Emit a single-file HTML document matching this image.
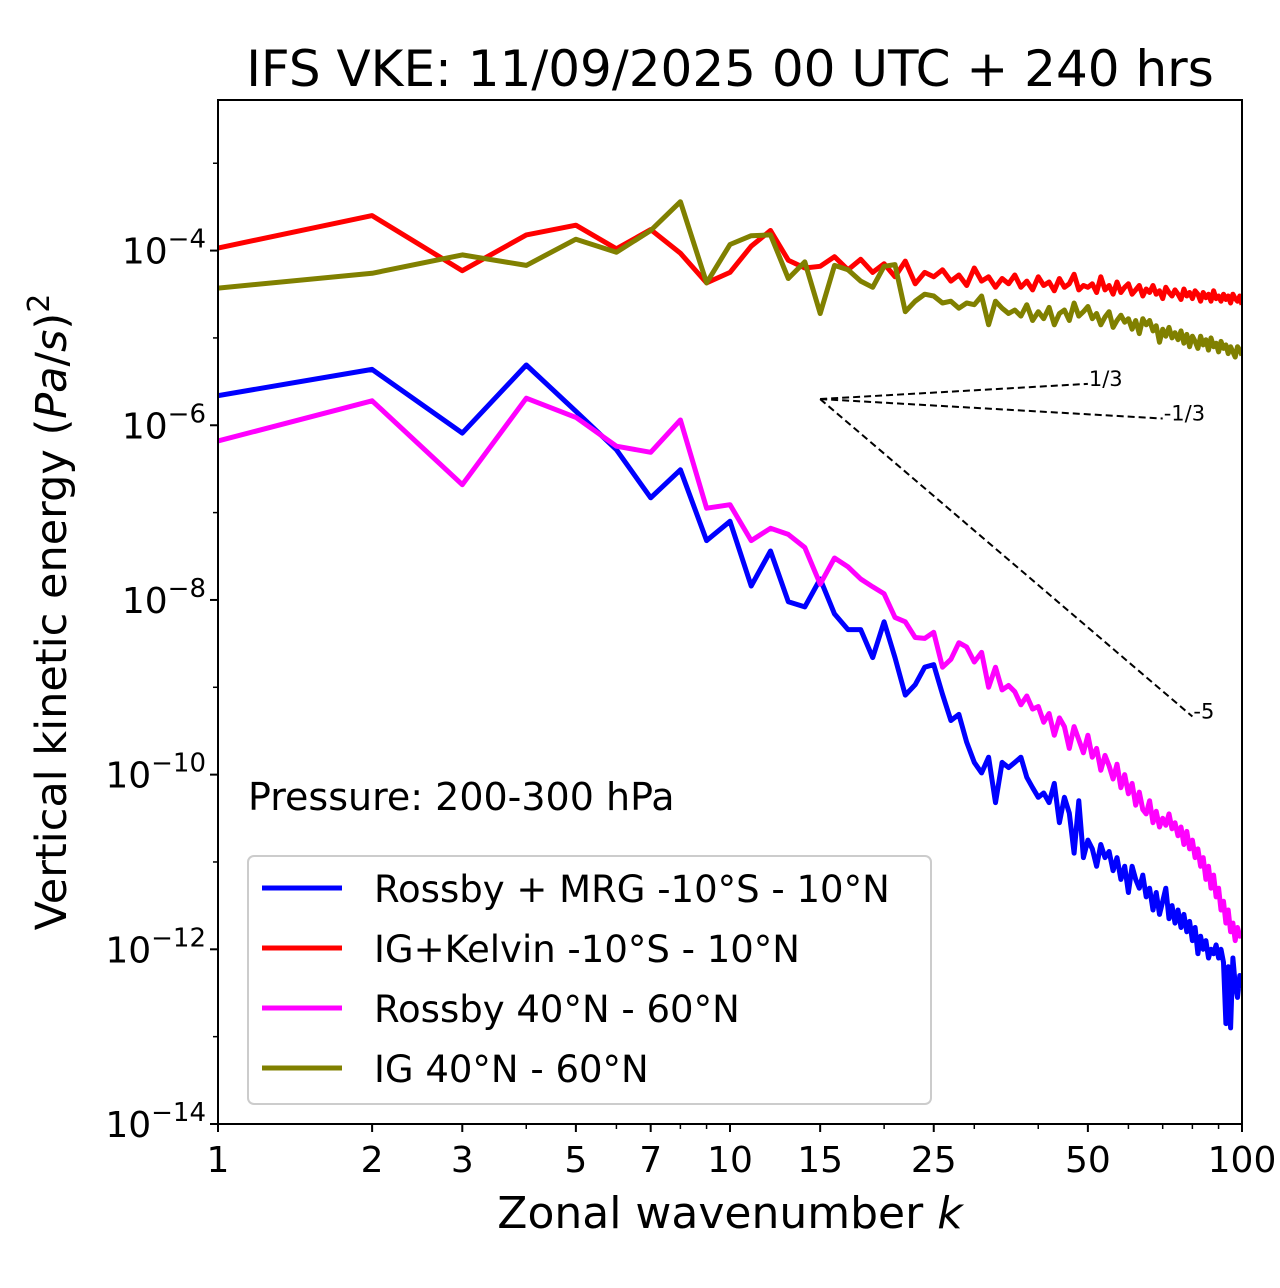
<!DOCTYPE html>
<html><head><meta charset="utf-8"><style>
html,body{margin:0;padding:0;background:#fff;}
svg{display:block;font-family:"DejaVu Sans","Liberation Sans",sans-serif;}
</style></head><body>
<svg id="chart" width="1280" height="1288" viewBox="0 0 1280 1288" xmlns="http://www.w3.org/2000/svg">
<rect width="1280" height="1288" fill="#fff"/>
<text x="730" y="86" font-size="50" text-anchor="middle">IFS VKE: 11/09/2025 00 UTC + 240 hrs</text>
<g id="marks"></g>
<g id="axes"></g>
<rect x="218" y="100" width="1024" height="1024" fill="none" stroke="#000" stroke-width="2"/>
<text x="730" y="1228" font-size="44" text-anchor="middle">Zonal wavenumber <tspan font-style="italic">k</tspan></text>
<text transform="translate(66,612) rotate(-90)" font-size="43" text-anchor="middle">Vertical kinetic energy (<tspan font-style="italic">Pa</tspan>/<tspan font-style="italic">s</tspan>)<tspan dy="-17" font-size="30">2</tspan></text>
<text x="248" y="810" font-size="38">Pressure: 200-300 hPa</text>
<g>
<rect x="248" y="856" width="683" height="248" rx="6" fill="#fff" fill-opacity="0.8" stroke="#ccc" stroke-width="2"/>
<line x1="262" y1="888" x2="342" y2="888" stroke="#0000ff" stroke-width="5"/>
<text x="374" y="902" font-size="37">Rossby + MRG -10°S - 10°N</text>
<line x1="262" y1="948" x2="342" y2="948" stroke="#ff0000" stroke-width="5"/>
<text x="374" y="962" font-size="37">IG+Kelvin -10°S - 10°N</text>
<line x1="262" y1="1008" x2="342" y2="1008" stroke="#ff00ff" stroke-width="5"/>
<text x="374" y="1022" font-size="37">Rossby 40°N - 60°N</text>
<line x1="262" y1="1068" x2="342" y2="1068" stroke="#808000" stroke-width="5"/>
<text x="374" y="1082" font-size="37">IG 40°N - 60°N</text>
</g>
</svg>
<script>
const xTicks = [1,2,3,5,7,10,15,25,50,100];
const yTickExps = [-14,-12,-10,-8,-6,-4];
const logRossbyMRG = [-5.66,-5.36,-6.09,-5.31,-5.84,-6.28,-6.83,-6.51,-7.32,-7.10,-7.84,-7.44,-8.02,-8.08,-7.76,-8.16,-8.34,-8.34,-8.66,-8.25,-8.66,-9.09,-8.97,-8.77,-8.74,-9.08,-9.38,-9.31,-9.63,-9.86,-9.98,-9.80,-10.32,-9.86,-9.92,-9.86,-9.80,-10.03,-10.15,-10.26,-10.21,-10.32,-10.10,-10.55,-10.26,-10.44,-10.90,-10.30,-10.95,-10.75,-10.85,-11.05,-10.80,-10.95,-10.88,-11.10,-10.95,-11.20,-11.05,-11.35,-11.05,-11.20,-11.30,-11.15,-11.40,-11.30,-11.55,-11.35,-11.60,-11.45,-11.30,-11.65,-11.50,-11.70,-11.55,-11.75,-11.60,-11.80,-11.68,-11.90,-11.75,-12.05,-11.85,-12.00,-11.90,-12.10,-12.00,-12.05,-11.95,-12.10,-12.00,-12.15,-12.85,-12.20,-12.90,-12.10,-12.40,-12.55,-12.30,-12.45];
const logIGKelvin = [-3.97,-3.60,-4.23,-3.82,-3.71,-3.98,-3.76,-4.03,-4.37,-4.25,-3.95,-3.77,-4.11,-4.20,-4.18,-4.07,-4.22,-4.10,-4.25,-4.15,-4.30,-4.12,-4.38,-4.25,-4.30,-4.22,-4.35,-4.28,-4.40,-4.20,-4.35,-4.30,-4.42,-4.32,-4.38,-4.28,-4.42,-4.35,-4.45,-4.30,-4.40,-4.36,-4.46,-4.32,-4.42,-4.38,-4.27,-4.45,-4.40,-4.42,-4.38,-4.48,-4.30,-4.45,-4.40,-4.50,-4.36,-4.48,-4.42,-4.38,-4.50,-4.45,-4.40,-4.52,-4.44,-4.48,-4.40,-4.50,-4.46,-4.55,-4.42,-4.48,-4.52,-4.45,-4.50,-4.56,-4.44,-4.52,-4.48,-4.55,-4.46,-4.50,-4.58,-4.48,-4.54,-4.50,-4.58,-4.46,-4.55,-4.52,-4.58,-4.50,-4.56,-4.52,-4.60,-4.50,-4.55,-4.58,-4.52,-4.62];
const logRossbyMid = [-6.18,-5.72,-6.68,-5.69,-5.91,-6.24,-6.31,-5.94,-6.95,-6.91,-7.32,-7.18,-7.25,-7.40,-7.82,-7.52,-7.62,-7.76,-7.85,-7.93,-8.20,-8.25,-8.43,-8.44,-8.37,-8.77,-8.68,-8.49,-8.54,-8.71,-8.60,-9.00,-8.77,-9.03,-8.98,-9.05,-9.20,-9.10,-9.25,-9.22,-9.40,-9.30,-9.55,-9.35,-9.45,-9.70,-9.45,-9.60,-9.75,-9.55,-9.80,-9.70,-9.95,-9.78,-9.90,-10.05,-9.88,-10.15,-10.00,-10.22,-10.10,-10.35,-10.20,-10.40,-10.45,-10.30,-10.55,-10.42,-10.60,-10.50,-10.58,-10.45,-10.62,-10.55,-10.70,-10.60,-10.80,-10.65,-10.85,-10.75,-10.95,-10.85,-11.05,-10.95,-11.20,-11.05,-11.30,-11.15,-11.40,-11.30,-11.55,-11.45,-11.70,-11.55,-11.80,-11.70,-11.90,-11.75,-11.85,-11.80];
const logIGMid = [-4.43,-4.26,-4.05,-4.17,-3.87,-4.02,-3.77,-3.44,-4.37,-3.93,-3.83,-3.82,-4.32,-4.13,-4.72,-4.17,-4.22,-4.35,-4.42,-4.18,-4.16,-4.70,-4.58,-4.50,-4.52,-4.60,-4.58,-4.66,-4.60,-4.62,-4.52,-4.85,-4.58,-4.66,-4.72,-4.68,-4.75,-4.62,-4.80,-4.70,-4.78,-4.65,-4.85,-4.72,-4.68,-4.80,-4.60,-4.75,-4.70,-4.64,-4.78,-4.72,-4.85,-4.76,-4.70,-4.88,-4.80,-4.74,-4.82,-4.78,-4.90,-4.80,-4.95,-4.78,-4.85,-4.80,-4.92,-4.86,-5.05,-4.90,-4.98,-4.88,-5.00,-4.94,-5.02,-4.92,-5.06,-4.96,-5.10,-4.98,-5.04,-5.12,-4.98,-5.08,-5.02,-5.14,-5.00,-5.10,-5.06,-5.16,-5.04,-5.12,-5.08,-5.18,-5.10,-5.16,-5.22,-5.10,-5.14,-5.20];
const refSlopes = [1/3,-1/3,-5];
const refLabels = ["1/3","-1/3","-5"];
const refEnds = [50,70,80];
const refStartK = 15, refStartLog = -5.70;

const NS="http://www.w3.org/2000/svg";
const X0=218,X1=1242,Y0=100,Y1=1124,LMIN=-14,LMAX=-2.276;
const xs=k=>X0+(X1-X0)*Math.log10(k)/2;
const ys=l=>Y1-(Y1-Y0)*(l-LMIN)/(LMAX-LMIN);
const marks=document.getElementById('marks'),axes=document.getElementById('axes');
function mk(tag,attrs,parent){const e=document.createElementNS(NS,tag);for(const a in attrs)e.setAttribute(a,attrs[a]);parent.appendChild(e);return e;}

const series=[[logRossbyMRG,'#0000ff','series-rossby-mrg'],[logIGKelvin,'#ff0000','series-ig-kelvin'],[logRossbyMid,'#ff00ff','series-rossby-midlat'],[logIGMid,'#808000','series-ig-midlat']];
const cp=mk('clipPath',{id:'cp'},marks);mk('rect',{x:X0,y:Y0,width:X1-X0,height:Y1-Y0},cp);
series.forEach(s=>{
 const p=mk('polyline',{points:s[0].map((v,i)=>xs(i+1).toFixed(1)+','+ys(v).toFixed(1)).join(' '),fill:'none',stroke:s[1],'stroke-width':5,'stroke-linejoin':'round','clip-path':'url(#cp)'},marks);
 
 
});
refSlopes.forEach((sl,i)=>{
 const le=refStartLog+sl*Math.log10(refEnds[i]/refStartK);
 const l=mk('line',{x1:xs(refStartK),y1:ys(refStartLog),x2:xs(refEnds[i]),y2:ys(le),stroke:'#000','stroke-width':2,'stroke-dasharray':'7,4'},marks);
 
 
 const t=mk('text',{x:xs(refEnds[i])+1,y:ys(le)+2,'font-size':21},marks);t.textContent=refLabels[i];
 
 
});
xTicks.forEach(k=>{
 const x=xs(k);mk('line',{x1:x,y1:Y1,x2:x,y2:Y1+8,stroke:'#000','stroke-width':2},axes);
 const t=mk('text',{x:x,y:Y1+48,'font-size':36,'text-anchor':'middle'},axes);t.textContent=k;
 
 
});
for(let d=1;d<=10;d*=10)for(let m=2;m<=9;m++){const x=xs(d*m);if(x<X1-1)mk('line',{x1:x,y1:Y1,x2:x,y2:Y1+5,stroke:'#000','stroke-width':1.5},axes);}
for(let e=-13;e<=-3;e+=2){const y=ys(e);mk('line',{x1:X0,y1:y,x2:X0-5,y2:y,stroke:'#000','stroke-width':1.5},axes);}
yTickExps.forEach(e=>{
 const y=ys(e);mk('line',{x1:X0,y1:y,x2:X0-8,y2:y,stroke:'#000','stroke-width':2},axes);
 const t=mk('text',{x:X0-12,y:y+13,'font-size':36,'text-anchor':'end'},axes);
 t.innerHTML='10<tspan dy="-16" font-size="26">\u2212'+(-e)+'</tspan>';
 
 
});
</script>
</body></html>
